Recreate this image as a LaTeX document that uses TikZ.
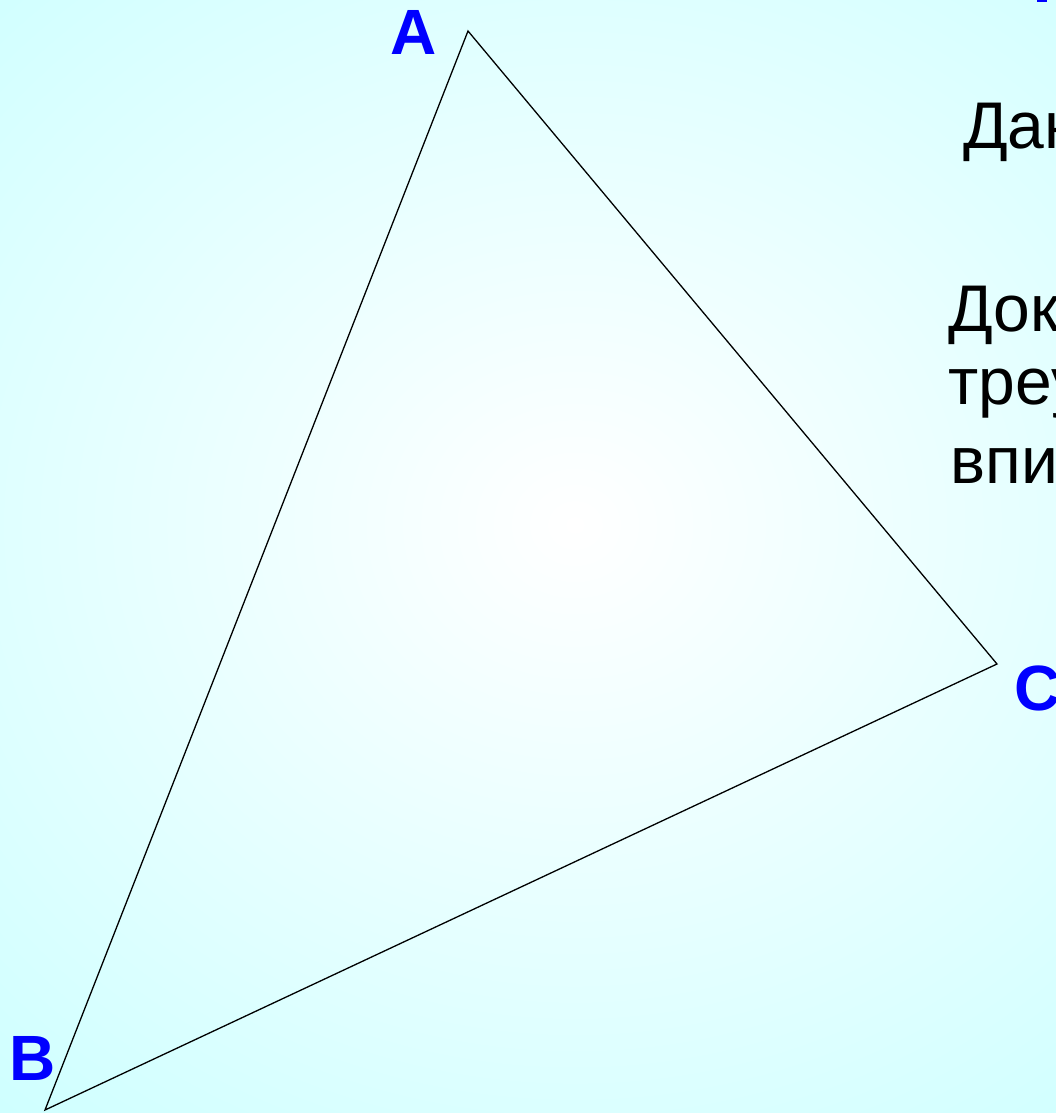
\documentclass[tikz,border=0pt]{standalone}
\usepackage{fontspec}
\setmainfont{Liberation Sans}
\usetikzlibrary{positioning}
\definecolor{wcyan}{HTML}{CCFFFF}
\definecolor{wlabel}{HTML}{0000FF}

\begin{document}
\begin{tikzpicture}[
  x=1pt,y=-1pt,
  side/.style={draw=black,line width=1.3pt,line join=miter},
  vlabel/.style={font=\fontsize{64}{64}\selectfont\bfseries,text=wlabel,inner sep=0pt,anchor=base west},
  given/.style={font=\fontsize{66}{66}\selectfont,inner sep=0pt,anchor=base west}]

% ---------- slide background ----------
\useasboundingbox (0,0) rectangle (1056,1113);
\shade[inner color=white,outer color=wcyan] (-350,-300) rectangle (1500,1350);
\clip (0,0) rectangle (1056,1113);
\fill[wlabel] (1037,0) rectangle (1047,2);

% ---------- the triangle ----------
\coordinate (A) at (468,31);
\coordinate (B) at (45,1110);
\coordinate (C) at (997,664);
\draw[side] (A) -- (C) -- (B) -- cycle;

% ---------- vertex names ----------
\node[vlabel] (lA) at (390,55) {A};
\node[vlabel] (lB) at (9,1080) {B};
\node[vlabel] (lC) at (1014,710) {C};

% ---------- text on the right, cut by the slide edge ----------
\node[given] (t1) at (963,148) {Дан};
\node[given] (t2) at (948,331) {Док};
\node[given] (t3) at (948,404) {треу};
\node[given] (t4) at (950,483) {впис};
\end{tikzpicture}
\end{document}
